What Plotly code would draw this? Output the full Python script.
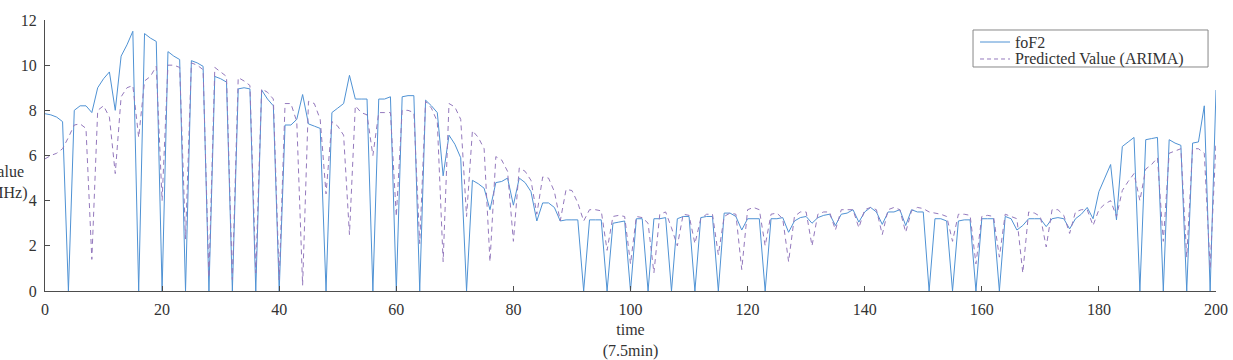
import plotly.graph_objects as go

time = list(range(0, 201))

fof2 = [
    7.85, 7.8, 7.7, 7.5, 0, 8.0, 8.2, 8.2, 7.9, 9.0,
    9.4, 9.7, 8.0, 10.4, 10.9, 11.5, 0, 11.4, 11.2, 11.05,
    0, 10.6, 10.4, 10.25, 0, 10.2, 10.1, 9.95, 0, 9.5,
    9.4, 9.25, 0, 8.95, 9.0, 8.95, 0, 8.9, 8.5, 8.2,
    0, 7.35, 7.35, 7.6, 8.7, 7.4, 7.3, 7.2, 0, 7.9,
    8.1, 8.3, 9.55, 8.5, 8.5, 8.5, 0, 8.5, 8.5, 8.6,
    0, 8.6, 8.65, 8.65, 0, 8.45, 8.2, 7.9, 5.1, 6.9,
    6.5, 5.9, 0, 4.9, 4.75, 4.55, 3.6, 4.8, 4.85, 5.0,
    3.8, 5.0, 4.8, 4.4, 3.1, 3.9, 3.9, 3.7, 3.1, 3.15,
    3.15, 3.15, 0, 3.15, 3.15, 3.15, 0, 3.0, 3.05, 3.1,
    0, 3.2, 3.2, 0, 3.2, 3.2, 3.25, 0, 3.2, 3.3,
    3.3, 0, 3.25, 3.3, 3.3, 0, 3.45, 3.45, 3.3, 2.7,
    3.2, 3.2, 3.2, 0, 3.2, 3.2, 3.25, 2.6, 3.1, 3.25,
    3.3, 3.0, 3.25, 3.35, 3.4, 2.9, 3.4, 3.45, 3.6, 3.05,
    3.5, 3.7, 3.5, 2.95, 3.5, 3.5, 3.6, 2.9, 3.6, 3.5,
    3.5, 0, 3.2, 3.2, 3.1, 0, 3.1, 3.15, 3.15, 0,
    3.2, 3.2, 3.2, 0, 3.3, 3.2, 2.7, 2.9, 3.2, 3.2,
    3.2, 2.85, 3.2, 3.25, 3.2, 2.75, 3.2, 3.4, 3.7, 3.2,
    4.4, 5.0, 5.6, 3.15, 6.4, 6.6, 6.8, 0, 6.7, 6.75,
    6.8, 0, 6.7, 6.55, 6.45, 0, 6.55, 6.6, 8.2, 0,
    8.9,
]

predicted = [
    5.85, 6.0, 6.1, 6.3, 6.8, 7.35, 7.4, 7.2, 1.4, 8.0,
    8.2, 7.7, 5.2, 8.6, 9.0, 9.1, 6.8, 9.3, 9.5, 9.95,
    4.0, 10.0, 10.0, 9.9, 2.3, 10.1, 10.0, 9.8, 0.6, 9.9,
    9.7, 9.5, 0.5, 9.45, 9.3, 9.1, 0.8, 8.95, 8.8, 8.5,
    0.5, 8.3, 8.3, 7.5, 0.25, 8.4, 8.3, 7.6, 4.3, 7.5,
    7.3, 6.9, 2.5, 8.2, 7.9, 7.8, 6.0, 7.9, 7.9, 7.9,
    3.3, 8.0, 8.0, 7.9, 2.1, 8.4, 8.1, 7.5, 1.3, 8.3,
    8.15, 7.6, 3.3, 7.1, 6.8, 6.3, 1.3, 5.95, 5.8, 5.3,
    2.2, 5.45, 5.3, 4.9, 3.4, 5.05, 5.0, 4.4, 3.1, 4.5,
    4.45, 3.9, 3.1, 3.6, 3.6, 3.55, 1.8, 3.3, 3.35, 3.3,
    1.2, 3.3, 3.25, 3.0, 0.8, 3.4, 3.5, 2.8, 2.0, 3.4,
    3.35, 2.1, 3.2, 3.4, 3.4, 1.6, 3.3, 3.45, 3.4, 0.95,
    3.6, 3.7, 3.6, 2.0, 3.4, 3.45, 3.2, 1.3, 3.3, 3.5,
    3.5, 2.0, 3.4, 3.5, 3.5, 2.7, 3.6, 3.6, 3.6, 2.8,
    3.6, 3.7, 3.6, 2.5, 3.6, 3.7, 3.6, 2.6, 3.55, 3.7,
    3.65, 3.5, 3.45, 3.4, 3.3, 2.2, 3.4, 3.4, 3.35, 1.2,
    3.3, 3.35, 3.3, 1.5, 3.4, 3.3, 3.2, 0.8, 3.5, 3.45,
    3.3, 1.95, 3.6, 3.6, 3.35, 2.55, 3.5, 3.6, 3.6, 2.9,
    3.6, 3.85, 4.0, 3.3, 4.45, 4.85, 5.2, 4.0, 5.4, 5.6,
    5.9, 2.2, 6.1, 6.2, 6.3, 1.5, 6.3, 6.3, 6.1, 1.0,
    6.6,
]

x_ticks = [0, 20, 40, 60, 80, 100, 120, 140, 160, 180, 200]
y_ticks = [0, 2, 4, 6, 8, 10, 12]
series_names = ["foF2", "Predicted Value (ARIMA)"]

FONT = "Liberation Serif, Times New Roman, serif"
AXIS_COLOR = "#4d4d4d"
TEXT_COLOR = "#333333"
BLUE = "#4f92d4"
PURPLE = "#9479bd"

fig = go.Figure()
fig.add_trace(go.Scatter(
    x=time, y=fof2, mode="lines", name=series_names[0],
    line=dict(color=BLUE, width=1),
))
fig.add_trace(go.Scatter(
    x=time, y=predicted, mode="lines", name=series_names[1],
    line=dict(color=PURPLE, width=1, dash="5px,4px"),
))

# Manual MATLAB-style legend (compact box)
shapes = [
    dict(type="rect", xref="paper", yref="paper", x0=0.7925, x1=0.9932, y0=0.8266, y1=0.9631,
         line=dict(color="#888888", width=1), fillcolor="white", layer="above"),
    dict(type="line", xref="paper", yref="paper", x0=0.7985, x1=0.8241, y0=0.9188, y1=0.9188,
         line=dict(color=BLUE, width=1), layer="above"),
    dict(type="line", xref="paper", yref="paper", x0=0.7985, x1=0.8241, y0=0.8561, y1=0.8561,
         line=dict(color=PURPLE, width=1, dash="4px,3px"), layer="above"),
]

annotations = [
    dict(text=series_names[0], xref="paper", yref="paper", x=0.8266, y=0.9188,
         xanchor="left", yanchor="middle", showarrow=False,
         font=dict(family=FONT, size=16, color=TEXT_COLOR)),
    dict(text=series_names[1], xref="paper", yref="paper", x=0.8266, y=0.8561,
         xanchor="left", yanchor="middle", showarrow=False,
         font=dict(family=FONT, size=16, color=TEXT_COLOR)),
    dict(text="Value<br>(MHz)", xref="paper", yref="paper",
         x=-0.0335, y=0.400, xanchor="center", yanchor="middle",
         showarrow=False, align="center",
         font=dict(family=FONT, size=16, color=TEXT_COLOR)),
]

fig.update_layout(
    width=1233, height=360,
    margin=dict(l=45, r=17, t=20, b=69, autoexpand=False),
    paper_bgcolor="white", plot_bgcolor="white",
    font=dict(family=FONT, size=16, color=TEXT_COLOR),
    showlegend=False,
    shapes=shapes,
    annotations=annotations,
    xaxis=dict(
        range=[0, 200], tickvals=x_ticks, ticktext=[str(v) for v in x_ticks],
        showgrid=False, zeroline=False, showline=True, linecolor=AXIS_COLOR,
        linewidth=1, ticks="inside", ticklen=5, tickcolor=AXIS_COLOR,
        tickfont=dict(family=FONT, size=16, color=TEXT_COLOR),
        ticklabelstandoff=4, automargin=False,
        title=dict(text="time<br>(7.5min)", font=dict(family=FONT, size=16, color=TEXT_COLOR), standoff=10),
    ),
    yaxis=dict(
        range=[0, 12], tickvals=y_ticks, ticktext=[str(v) for v in y_ticks],
        showgrid=False, zeroline=False, showline=True, linecolor=AXIS_COLOR,
        linewidth=1, ticks="inside", ticklen=5, tickcolor=AXIS_COLOR,
        tickfont=dict(family=FONT, size=16, color=TEXT_COLOR),
        ticklabelstandoff=4, automargin=False,
    ),
)

fig.write_html("out.html")
